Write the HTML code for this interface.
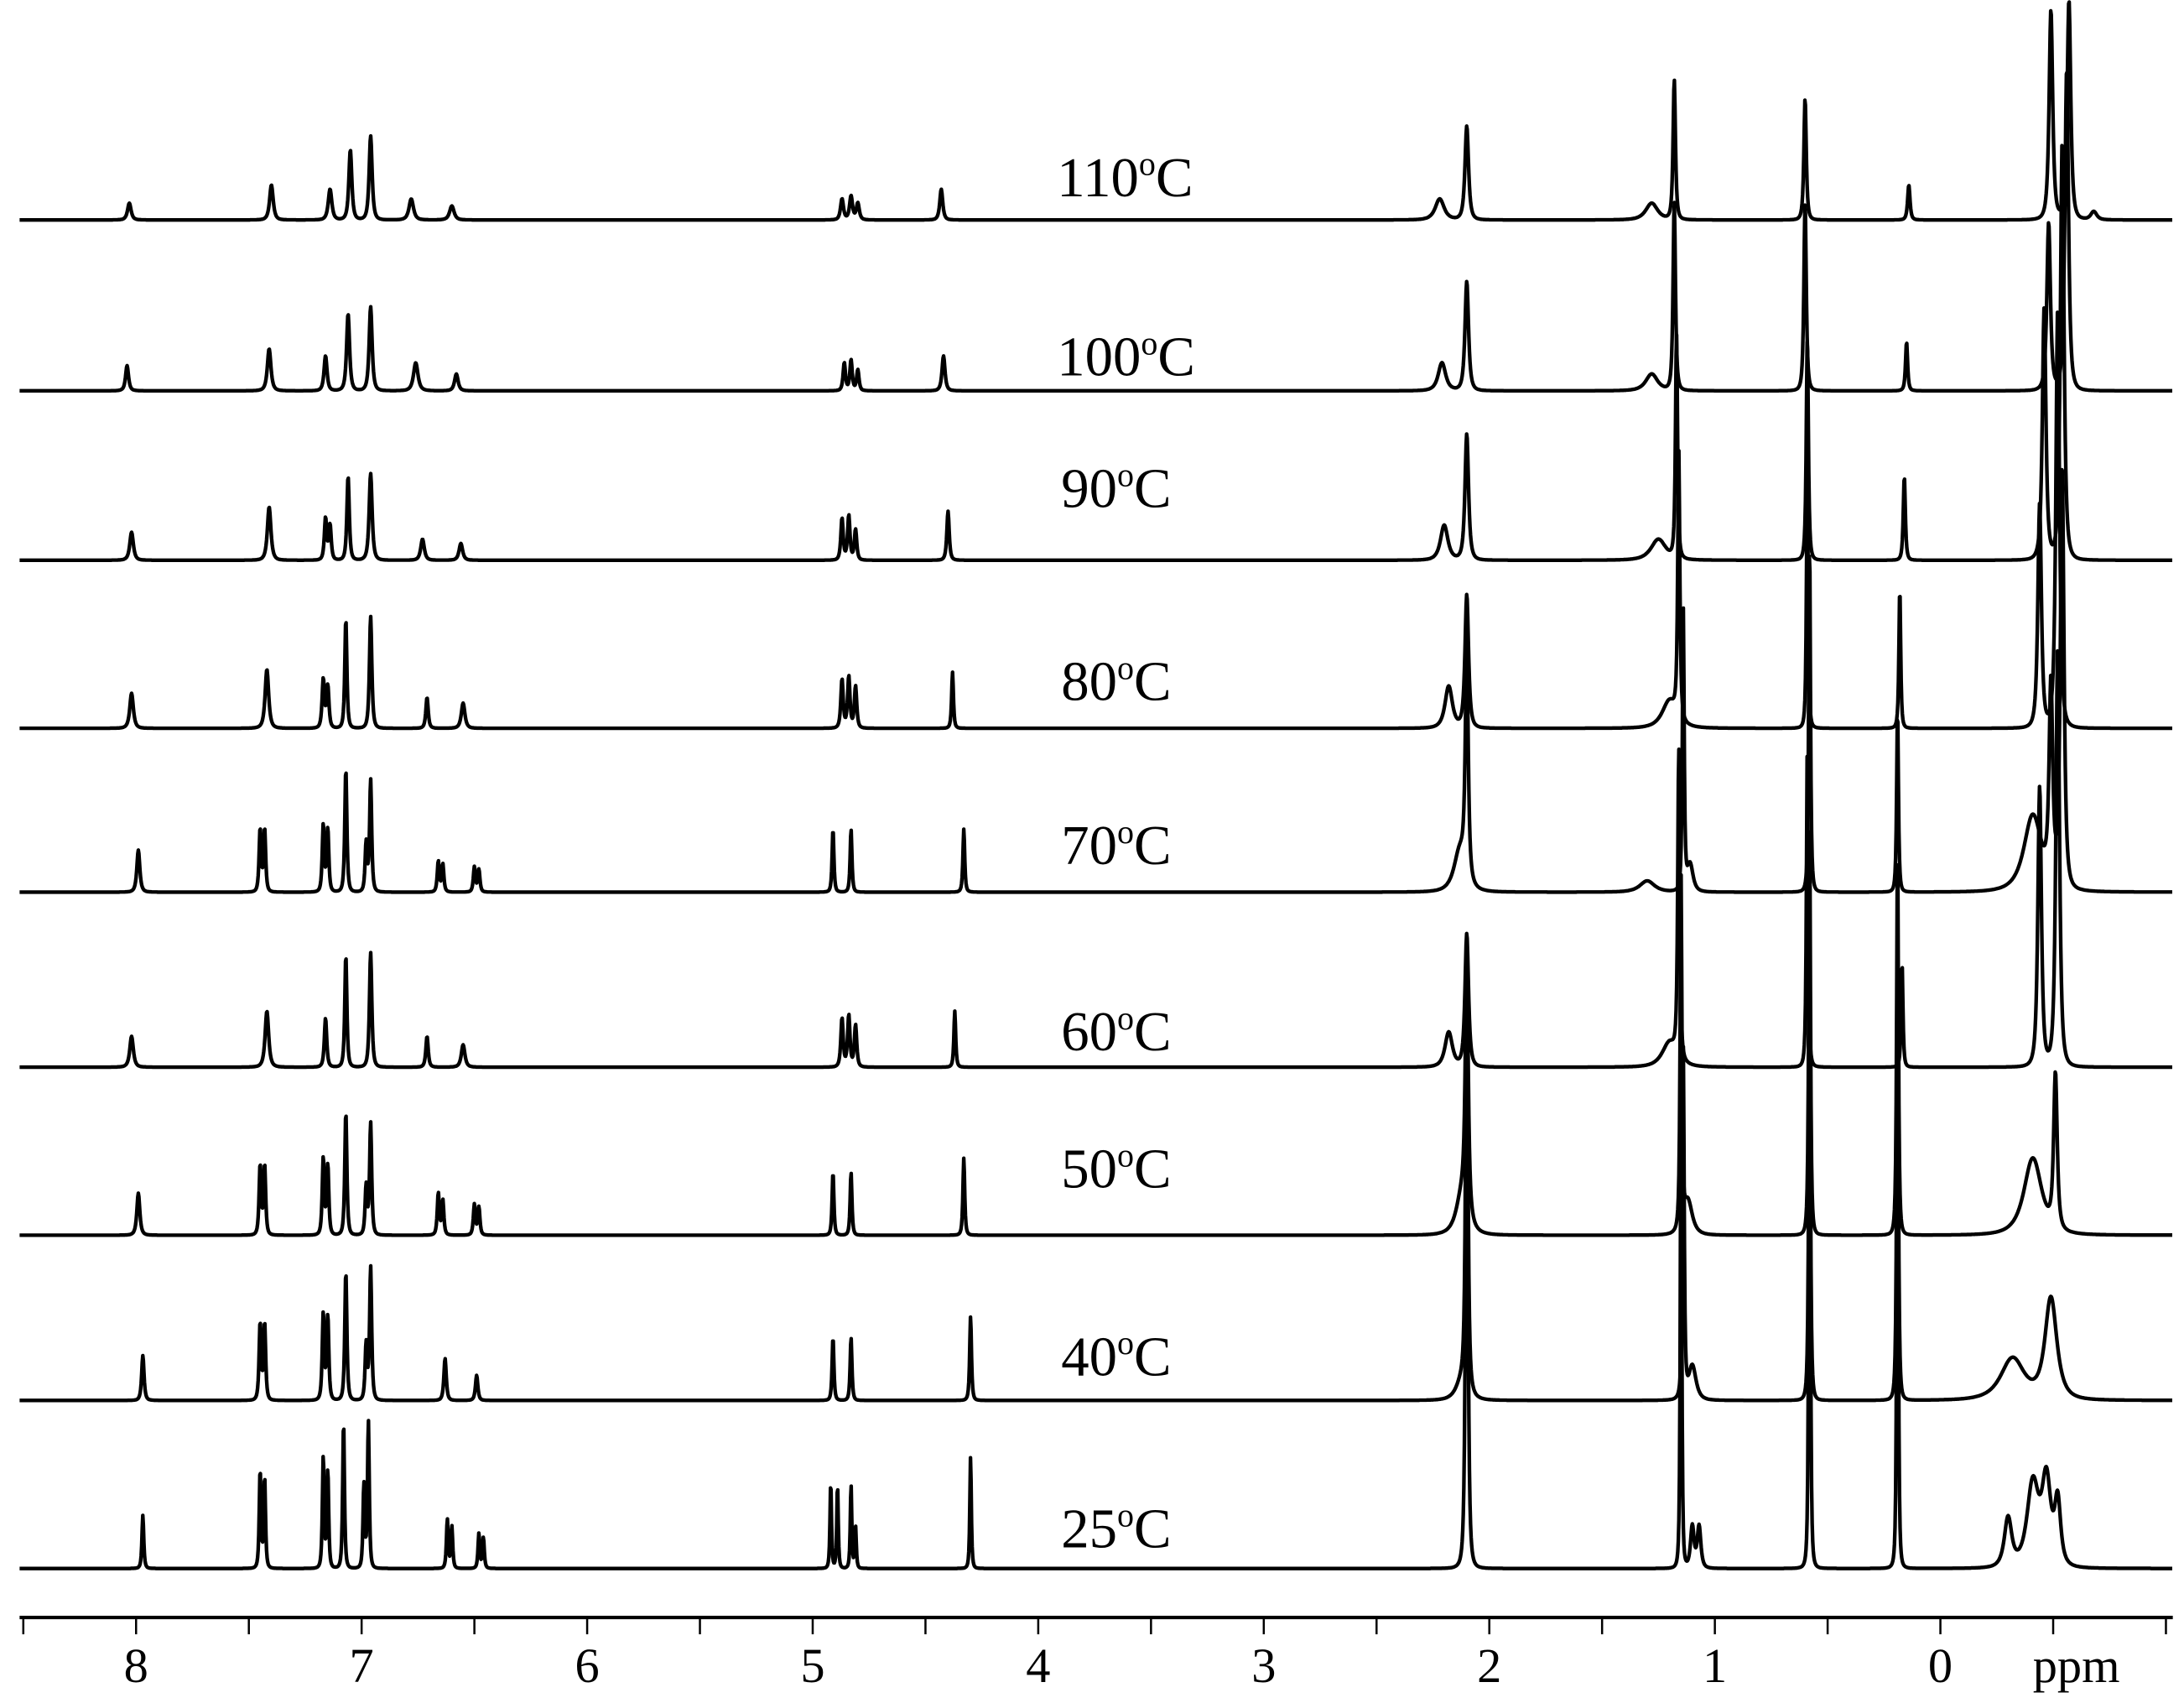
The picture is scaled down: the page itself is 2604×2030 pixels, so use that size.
<!DOCTYPE html>
<html><head><meta charset="utf-8"><style>
html,body{margin:0;padding:0;background:#fff;}
svg{display:block;}
text{font-family:"Liberation Serif",serif;fill:#000;}
</style></head><body>
<svg id="chart" width="2604" height="2030" viewBox="0 0 1560 1216" xmlns="http://www.w3.org/2000/svg">
<rect width="1560" height="1216" fill="#fff"/>
<g id="spectra"></g>
<g id="labels"></g>
<g id="axis"></g>
</svg>
<script>
const temps = ["110","100","90","80","70","60","50","40","25"];
const baselines = [157,279,400,520,637,762,882,1000,1120];
const labelY = [140,268,362,500,617,750,848,982,1105];
// peaks: [ppm, height(px), halfwidth(ppm)]
const peaks110 = [[8.03,12,.012],[7.40,25,.012],[7.14,22,.012],[7.05,50,.01],[6.96,60,.01],[6.78,15,.015],[6.60,10,.015],[4.87,15,.01],[4.83,17,.01],[4.80,12,.01],[4.43,22,.01],[2.22,15,.03],[2.10,67,.012],[1.28,12,.04],[1.18,100,.008],[0.60,87,.008],[0.14,25,.008],[-0.49,150,.012],[-0.57,157,.012],[-0.68,6,.02]];
const peaks100 = [[8.04,18,.01],[7.41,30,.012],[7.16,25,.01],[7.06,55,.01],[6.96,60,.01],[6.76,20,.015],[6.58,12,.012],[4.86,20,.008],[4.83,22,.008],[4.80,15,.008],[4.42,25,.01],[2.21,20,.025],[2.10,78,.012],[1.28,12,.04],[1.18,135,.008],[0.60,135,.008],[0.15,35,.007],[-0.48,120,.012],[-0.56,230,.012]];
const peaks90 = [[8.02,20,.012],[7.41,38,.012],[7.16,30,.008],[7.14,25,.008],[7.06,60,.008],[6.96,62,.01],[6.73,15,.012],[6.56,12,.012],[4.87,30,.008],[4.84,32,.008],[4.81,22,.008],[4.40,35,.008],[2.20,25,.025],[2.10,90,.012],[1.25,15,.05],[1.17,160,.007],[0.59,160,.007],[0.16,60,.007],[-0.46,180,.012],[-0.54,300,.012]];
const peaks80 = [[8.02,25,.012],[7.42,42,.012],[7.17,35,.008],[7.15,30,.008],[7.07,78,.007],[6.96,80,.008],[6.71,22,.008],[6.55,18,.012],[4.87,35,.008],[4.84,37,.008],[4.81,30,.008],[4.38,40,.006],[2.18,30,.025],[2.10,95,.012],[1.20,20,.05],[1.16,190,.007],[0.59,180,.006],[0.18,100,.006],[-0.44,160,.012],[-0.52,300,.012]];
const peaks70 = [[7.99,30,.01],[7.45,45,.007],[7.43,45,.007],[7.17,48,.007],[7.15,45,.007],[7.07,88,.007],[6.98,35,.007],[6.96,80,.007],[6.66,22,.007],[6.64,20,.007],[6.50,18,.007],[6.48,16,.007],[4.91,45,.006],[4.83,45,.006],[4.33,45,.006],[2.13,30,.04],[2.10,160,.01],[1.30,8,.05],[1.14,200,.006],[1.11,20,.02],[0.58,250,.006],[0.19,130,.006],[-0.41,55,.06],[-0.49,140,.012],[-0.54,300,.012]];
const peaks60 = [[8.02,22,.012],[7.42,40,.012],[7.16,35,.008],[7.07,80,.007],[6.96,82,.008],[6.71,22,.008],[6.55,16,.012],[4.87,35,.008],[4.84,37,.008],[4.81,30,.008],[4.37,40,.006],[2.18,25,.025],[2.10,95,.012],[1.20,18,.05],[1.16,220,.007],[0.59,230,.006],[0.17,75,.006],[-0.44,200,.012],[-0.52,300,.012]];
const peaks50 = [[7.99,30,.01],[7.45,50,.007],[7.43,50,.007],[7.17,55,.007],[7.15,50,.007],[7.07,88,.007],[6.98,35,.007],[6.96,80,.007],[6.66,30,.007],[6.64,25,.007],[6.50,22,.007],[6.48,20,.007],[4.91,45,.006],[4.83,45,.006],[4.33,55,.006],[2.12,30,.04],[2.10,180,.01],[1.12,25,.03],[1.15,250,.006],[0.58,300,.006],[0.19,280,.006],[-0.41,55,.06],[-0.51,110,.012]];
const peaks40 = [[7.97,32,.008],[7.45,55,.007],[7.43,55,.007],[7.17,62,.007],[7.15,60,.007],[7.07,92,.007],[6.98,40,.007],[6.96,95,.007],[6.63,30,.008],[6.49,18,.008],[4.91,45,.006],[4.83,45,.006],[4.30,60,.006],[2.12,15,.04],[2.10,300,.008],[1.14,250,.006],[1.10,25,.025],[0.58,300,.006],[0.19,300,.006],[-0.32,30,.08],[-0.49,72,.04]];
const peaks25 = [[7.97,38,.006],[7.45,70,.006],[7.43,65,.006],[7.17,80,.006],[7.15,70,.006],[7.08,105,.006],[6.99,60,.006],[6.97,105,.006],[6.62,35,.006],[6.60,30,.006],[6.48,25,.006],[6.46,22,.006],[4.92,62,.005],[4.89,60,.005],[4.83,60,.005],[4.81,30,.005],[4.30,80,.005],[2.10,400,.008],[1.15,340,.005],[1.10,30,.012],[1.07,30,.012],[0.58,500,.005],[0.19,430,.005],[-0.30,35,.025],[-0.41,60,.04],[-0.47,60,.03],[-0.52,45,.02]];
const allPeaks = [peaks110,peaks100,peaks90,peaks80,peaks70,peaks60,peaks50,peaks40,peaks25];
const tickValues = [8,7,6,5,4,3,2,1,0];
const tickLabels = ["8","7","6","5","4","3","2","1","0"];

const NS="http://www.w3.org/2000/svg";
const X0=1386, PX=161.1, XL=14, XR=1552, AXY=1155;
function xs(p){return X0-PX*p;}
function shape(p,pk){const d=(p-pk[0])/pk[2];return pk[1]/Math.pow(1+d*d,1.5);}
const sg=document.getElementById('spectra');
allPeaks.forEach((pk,i)=>{
  let d="";
  for(let x=XL;x<=XR;x+=0.4){
    const p=(X0-x)/PX;let h=0;
    pk.forEach(k=>{h+=shape(p,k);});
    let y=baselines[i]-h; if(y<0)y=0;
    d+=(d?"L":"M")+x.toFixed(1)+" "+y.toFixed(1);
  }
  const path=document.createElementNS(NS,'path');
  path.setAttribute('d',d);path.setAttribute('fill','none');path.setAttribute('stroke','#000');path.setAttribute('stroke-width','2.6');path.setAttribute('stroke-linejoin','round');
  
  
  sg.appendChild(path);
});
const lg=document.getElementById('labels');
temps.forEach((t,i)=>{
  const tx=document.createElementNS(NS,'text');
  tx.setAttribute('x',t.length===3?755:758);tx.setAttribute('y',labelY[i]);tx.setAttribute('font-size','40');
  tx.innerHTML=t+'<tspan dy="-15" font-size="24">o</tspan><tspan dy="15">C</tspan>';
  
  
  lg.appendChild(tx);
});
const ag=document.getElementById('axis');
const al=document.createElementNS(NS,'line');
al.setAttribute('x1',XL);al.setAttribute('x2',XR);al.setAttribute('y1',AXY);al.setAttribute('y2',AXY);al.setAttribute('stroke','#000');al.setAttribute('stroke-width','2.5');


ag.appendChild(al);
for(let p=8.5;p>=-1.0;p-=0.5){
  const x=xs(p); if(x<XL-1||x>XR+1)continue;
  const t=document.createElementNS(NS,'line');
  t.setAttribute('x1',x);t.setAttribute('x2',x);t.setAttribute('y1',AXY);t.setAttribute('y2',AXY+12);t.setAttribute('stroke','#000');t.setAttribute('stroke-width','1.5');
  
  
  ag.appendChild(t);
}
tickValues.forEach((v,i)=>{
  const t=document.createElementNS(NS,'text');
  t.setAttribute('x',xs(v));t.setAttribute('y',1201);t.setAttribute('font-size','35');t.setAttribute('text-anchor','middle');
  t.textContent=tickLabels[i];
  
  
  ag.appendChild(t);
});
const pu=document.createElementNS(NS,'text');
pu.setAttribute('x',1452);pu.setAttribute('y',1201);pu.setAttribute('font-size','35');pu.textContent='ppm';


ag.appendChild(pu);
</script>
</body></html>
